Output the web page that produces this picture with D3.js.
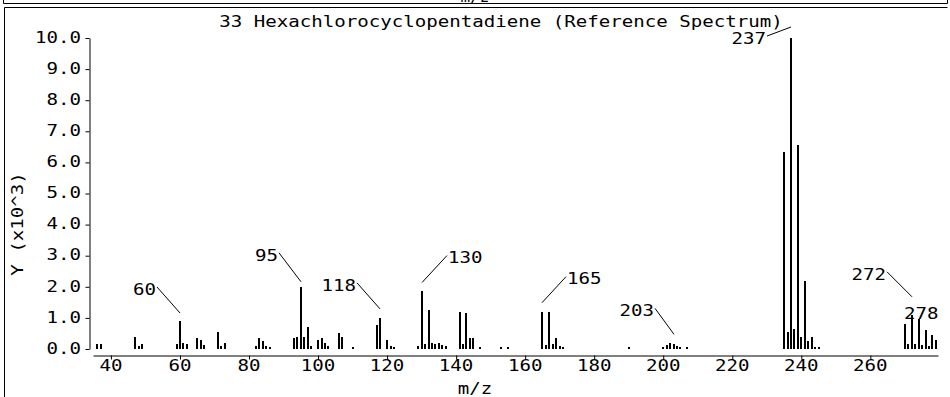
<!DOCTYPE html>
<html>
<head>
<meta charset="utf-8">
<script src="https://cdn.jsdelivr.net/npm/d3@7"></script>
<style>
  html, body { margin: 0; padding: 0; background: #fff; }
  svg { display: block; }
  text { font-family: "DejaVu Sans Mono", monospace; font-size: 16px; fill: #000; }
</style>
</head>
<body>
<svg id="chart" width="950" height="397"></svg>
<script>
// ---------- data ----------
const title = "33 Hexachlorocyclopentadiene (Reference Spectrum)";
const xTitle = "m/z";
const yTitle = "Y (x10^3)";
const mz = [36,37,47,48,49,59,60,61,62,65,66,67,71,72,73,82,83,84,85,86,
            93,94,95,96,97,98,100,101,102,103,106,107,110,117,118,120,121,122,
            129,130,131,132,133,134,135,136,137,141,142,143,144,145,147,153,155,
            165,166,167,168,169,170,171,190,200,201,202,203,204,205,207,
            235,236,237,238,239,240,241,242,243,244,245,
            270,271,272,273,274,275,276,277,278,279];
const intensity = [0.17,0.15,0.40,0.10,0.15,0.15,0.90,0.20,0.15,0.35,0.30,0.12,0.55,0.10,0.20,0.10,0.35,0.25,0.10,0.08,
            0.35,0.40,2.00,0.40,0.70,0.10,0.30,0.35,0.20,0.10,0.52,0.40,0.08,0.78,1.00,0.30,0.10,0.08,
            0.10,1.88,0.15,1.26,0.20,0.15,0.20,0.12,0.10,1.20,0.15,1.17,0.35,0.35,0.08,0.08,0.08,
            1.20,0.12,1.20,0.15,0.35,0.10,0.06,0.05,0.05,0.12,0.20,0.15,0.10,0.06,0.05,
            6.33,0.55,10.00,0.63,6.56,0.40,2.20,0.25,0.40,0.06,0.05,
            0.80,0.15,1.10,0.15,0.95,0.12,0.60,0.10,0.45,0.30];
const xTicks = [40,60,80,100,120,140,160,180,200,220,240,260];
const yTicks = [0,1,2,3,4,5,6,7,8,9,10];
const labeledPeaks = [60,95,118,130,165,203,237,272,278];

// ---------- layout (annotation placement, not data) ----------
const labelLayout = {
  60:  {gap: 8,  dx: -23, dy: -26, side: "left"},
  95:  {gap: 5,  dx: -22, dy: -29, side: "left"},
  118: {gap: 9,  dx: -23, dy: -26, side: "left"},
  130: {gap: 8,  dx: 25,  dy: -27, side: "right"},
  165: {gap: 9,  dx: 24,  dy: -26, side: "right"},
  203: {gap: 10, dx: -19, dy: -26, side: "left"},
  237: {gap: 11, dx: -24, dy: 9,   side: "left"},
  272: {gap: 18, dx: -25, dy: -25, side: "left"},
  278: {gap: 0,  dx: -28, dy: -22, side: "none"}
};

const CHAR_W = 11.5;
const svg = d3.select("#chart");

function txt(g, s, x, y, anchor) {
  const w = s.length * CHAR_W;
  let x0 = x;
  if (anchor === "end") x0 = x - w;
  else if (anchor === "middle") x0 = x - w / 2;
  return g.append("text")
    .attr("x", x0).attr("y", y).attr("dy", "0.36em")
    .attr("textLength", w).attr("lengthAdjust", "spacingAndGlyphs")
    .text(s);
}

// ---------- frames ----------
const frame = svg.append("g").attr("stroke", "#000").attr("stroke-width", 1).attr("fill", "none");
frame.append("path").attr("d", "M3.5,0 V3.5 H947.5 V0");
frame.append("path").attr("d", "M4.5,397 V7.5 H947.5");
svg.append("text").attr("x", 475).attr("y", 1.5).attr("text-anchor", "middle").text(xTitle);

// ---------- scales ----------
const x = d3.scaleLinear().domain([34.8, 279.6]).range([93, 938]);
const y = d3.scaleLinear().domain([0, 10]).range([349, 38]);

// ---------- axes ----------
svg.append("g").attr("transform", "translate(0,355.5)")
  .call(d3.axisBottom(x).tickValues(xTicks).tickSize(4).tickSizeOuter(0).tickFormat(""));
svg.append("g").attr("transform", "translate(89.5,0)")
  .call(d3.axisLeft(y).tickValues(yTicks).tickSize(4).tickSizeOuter(0).tickFormat(""));
svg.selectAll(".domain, .tick line").attr("stroke", "#000").attr("stroke-width", 1);

const labels = svg.append("g");
xTicks.forEach(v => txt(labels, String(v), x(v), 365, "middle"));
yTicks.forEach(v => txt(labels, v.toFixed(1), 81, y(v) - 1, "end"));

txt(labels, title, 501, 21, "middle");
txt(labels, xTitle, 475, 388, "middle");
const yt = labels.append("g").attr("transform", "translate(17,224) rotate(-90)");
txt(yt, yTitle, 0, 0, "middle");

// ---------- bars ----------
svg.append("g").selectAll("rect")
  .data(mz.map((m, i) => ({m, v: intensity[i]})))
  .join("rect")
  .attr("x", d => Math.round(x(d.m)) - 1)
  .attr("width", 2)
  .attr("y", d => Math.round(y(d.v)))
  .attr("height", d => Math.max(1, y(0) - Math.round(y(d.v))))
  .attr("fill", "#000");

// ---------- peak annotations ----------
const ann = svg.append("g");
labeledPeaks.forEach(p => {
  const v = intensity[mz.indexOf(p)];
  const L = labelLayout[p];
  const bx = Math.round(x(p));
  const by = y(v) - L.gap;
  const ex = bx + L.dx, ey = by + L.dy;
  if (L.side !== "none") {
    ann.append("line").attr("x1", bx).attr("y1", by).attr("x2", ex).attr("y2", ey)
      .attr("stroke", "#000").attr("stroke-width", 1);
  }
  if (L.side === "left") txt(ann, String(p), ex - 1, ey + 2, "end");
  else if (L.side === "right") txt(ann, String(p), ex + 1, ey + 2, "start");
  else txt(ann, String(p), ex, ey, "start");
});
</script>
</body>
</html>
